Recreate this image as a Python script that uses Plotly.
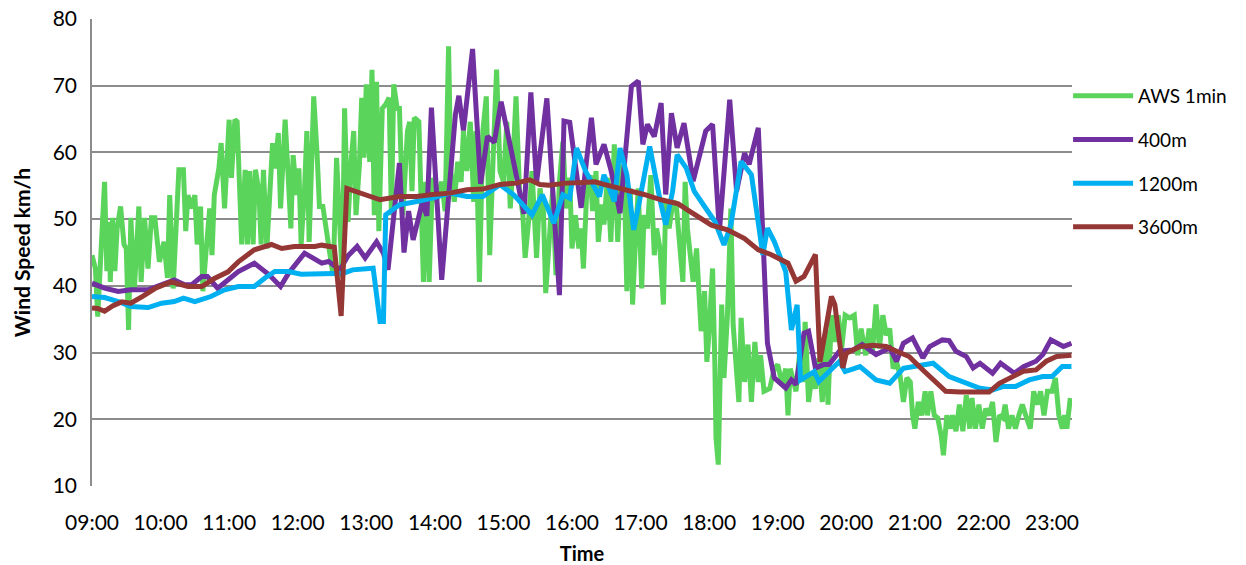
import pandas as pd
import plotly.graph_objects as go

# ---- data: minutes after 09:00 and wind speed (km/h) ----
aws_min = [0,3,5,8,11,13,15,16,18,20,
           22,25,28,30,32,34,37,41,43,46,
           49,52,55,59,63,66,68,71,73,76,
           80,82,84,87,90,92,95,97,100,103,
           105,107,111,113,116,118,120,122,125,127,
           129,131,134,136,138,141,143,146,148,150,
           153,156,158,160,163,165,167,169,171,174,
           176,179,181,183,186,188,190,192,194,197,
           199,202,205,208,211,
           214,217,219,221,224,227,229,231,234,236,
           238,240,243,245,247,249,251,254,257,260,
           262,264,267,269,272,276,278,280,282,286,
           288,290,292,295,298,301,306,309,312,314,
           317,320,323,325,328,331,334,336,339,342,
           345,348,351,354,357,360,363,366,368,371,
           374,377,379,382,385,389,392,395,397,400,
           403,406,409,412,415,418,420,423,426,
           428,430,433,436,438,441,443,446,448,451,
           454,457,460,463,466,468,471,473,476,478,
           481,483,486,489,492,494,497,500,502,505,
           508,511,514,517,519,521,526,529,531,533,
           536,538,540,542,543,545,546,548,550,551,
           553,556,559,561,564,566,568,571,574,577,
           580,583,585,588,593,597,600,604,607,609,
           611,616,619,622,624,627,630,633,636,639,
           642,644,647,650,653,656,659,663,667,670,
           673,677,680,683,686,689,692,695,698,701,
           704,707,710,713,716,718,720,723,726,729,
           731,734,737,740,743,745,748,751,753,756,
           759,762,765,768,770,773,776,779,782,785,
           788,791,794,797,799,802,805,808,811,814,
           817,821,824,827,830,833,836,840,843,846,
           849,851,853,856]
aws_kmh = [44.6,42.6,35.4,46.6,55.6,42.2,49.6,40.6,50.2,42.2,
           48.6,51.9,46.2,45.6,33.4,50.2,39.2,51.9,40.6,50.2,
           42.6,50.2,50.2,43.6,46.6,41.2,53.6,39.6,45.6,57.4,
           57.4,48.2,53.6,51.6,53.6,46.2,51.9,39.2,45.6,51.6,
           44.6,53.6,57.6,61.4,51.6,60.2,64.9,56.2,64.9,64.6,
           55.2,46.2,57.4,46.2,57.2,46.2,57.4,54.2,46.2,57.4,
           45.6,54.2,61.4,57.6,62.9,51.6,57.6,64.9,58.6,48.6,
           59.6,53.6,57.6,46.2,54.6,63.2,46.6,59.6,68.4,59.6,
           51.9,51.9,48.2,44.6,41.5,
           59.2,49.6,41.2,66.6,49.6,59.2,63.2,50.6,58.2,68.2,
           59.2,70.2,58.6,72.4,50.6,70.6,48.2,66.6,67.2,68.2,
           50.6,70.2,66.6,66.6,50.6,63.2,64.6,54.2,65.2,64.6,
           49.6,40.6,55.6,40.6,56.2,52.6,55.6,51.2,75.9,57.2,
           52.6,58.6,55.6,63.2,57.2,64.6,52.6,63.2,40.6,63.2,
           68.4,44.6,59.2,72.4,57.2,55.6,64.6,51.6,57.2,68.4,
           54.6,50.6,44.2,49.6,57.2,44.2,54.6,51.2,38.9,48.2,
           54.2,41.6,55.6,61.6,51.6,56.2,45.6,50.6,45.6,
           48.6,42.6,54.6,56.6,51.2,57.2,46.6,52.2,49.2,56.2,
           46.6,61.2,46.6,58.2,54.2,39.2,54.6,37.2,48.6,54.6,
           39.6,50.6,48.6,56.6,44.6,48.6,45.6,37.2,52.6,48.6,
           52.2,52.6,46.6,40.6,55.6,48.6,40.6,45.6,39.2,33.2,
           39.2,28.6,33.2,40.6,42.6,28.2,17.2,13.2,32.6,37.2,
           26.2,35.6,51.6,34.2,27.2,22.6,35.2,25.6,31.2,22.6,
           31.6,25.6,29.6,24.2,24.6,27.6,28.2,25.2,27.6,20.6,
           27.6,24.2,29.6,25.6,34.6,22.6,26.6,24.6,29.2,22.6,
           33.4,22.2,35.6,31.6,35.6,30.6,35.6,35.2,35.6,29.6,
           33.6,29.6,33.6,30.2,37.2,30.6,35.6,32.6,33.6,27.6,
           28.6,26.6,22.6,26.2,25.6,20.6,18.6,22.6,20.6,24.2,
           20.6,24.2,20.6,20.2,17.6,14.6,20.6,18.6,20.6,18.2,
           22.2,18.2,23.6,18.6,23.2,18.6,22.2,18.6,21.6,20.6,
           22.6,16.6,20.6,20.2,22.2,18.6,20.6,18.6,20.6,22.2,
           20.6,18.6,24.2,22.2,24.2,20.6,24.2,24.2,26.2,20.6,
           18.6,20.6,18.6,23.2]

m400_min = [0,11,23,34,49,61,72,81,87,96,
            101,110,119,128,142,148,155,165,172,186,
            201,207,212,217,224,232,239,249,255,259,
            269,273,277,281,289,293,297,306,318,321,
            325,333,340,346,352,358,368,378,384,389,
            398,409,413,418,428,437,441,448,454,462,
            472,478,482,486,492,498,502,507,512,518,
            526,537,543,549,558,564,571,575,583,591,
            597,607,612,616,623,627,633,640,645,654,
            666,674,686,698,704,710,718,727,733,744,
            750,756,765,771,777,788,795,807,815,826,
            832,839,850,857]
m400_kmh = [40.4,39.65,39.15,39.4,39.4,40.15,40.9,40.15,40.15,41.4,
            41.4,39.65,40.9,42.15,43.4,42.65,41.65,39.9,41.9,44.9,
            43.4,43.65,43.0,42.4,44.5,45.9,44.2,46.6,44.9,42.4,
            58.4,45.0,51.2,46.9,52.5,50.5,66.7,40.9,65.7,68.5,
            63.3,75.5,55.3,62.4,61.5,67.6,59.3,50.8,69.0,55.5,
            68.1,38.6,64.7,64.5,51.7,65.2,58.2,61.2,57.4,50.9,
            69.9,70.7,61.2,64.2,62.4,67.4,53.7,65.9,60.7,64.4,
            55.7,63.2,64.2,48.2,67.9,54.2,59.9,58.2,63.7,31.4,
            26.2,24.7,25.9,25.2,32.9,33.2,27.7,28.2,28.2,30.2,
            30.4,31.2,29.7,30.7,28.7,31.4,32.2,29.2,30.9,31.9,
            31.8,30.2,29.4,27.7,28.4,26.9,28.4,26.9,27.9,28.7,
            29.7,31.9,30.9,31.4]

m1200_min = [0,11,23,34,49,61,72,80,90,104,
             116,128,142,151,160,172,183,201,212,220,
             228,246,252,255,257,269,284,298,313,328,
             342,357,369,377,385,394,404,412,418,424,
             432,444,448,457,462,468,474,479,488,497,
             502,508,512,520,527,536,545,553,559,568,
             577,587,591,597,607,612,617,620,632,636,
             644,654,659,672,686,698,710,721,736,750,
             765,777,788,797,808,820,832,840,849,857]
m1200_kmh = [38.4,38.25,37.65,36.9,36.75,37.4,37.65,38.15,37.65,38.4,
             39.4,39.9,39.9,41.15,42.15,42.15,41.75,41.9,41.9,41.9,
             42.4,42.65,34.65,34.65,50.65,52.15,52.65,53.15,53.9,53.4,
             53.4,55.15,53.65,52.15,50.65,53.65,49.4,53.65,53.15,60.65,
             57.15,53.4,56.65,52.65,60.65,56.65,48.4,52.65,60.9,52.9,
             49.15,54.15,59.65,57.65,54.15,51.9,49.65,46.15,49.15,58.65,
             56.65,44.65,48.65,46.65,42.15,33.4,37.15,25.9,27.15,25.65,
             26.9,28.65,27.15,27.9,25.9,25.4,27.65,27.9,28.4,26.4,
             25.4,24.65,24.4,24.9,24.9,25.9,26.4,26.4,27.9,27.9]

m3600_min = [0,5,11,18,26,34,45,55,69,84,
             96,107,119,128,142,157,166,177,195,201,
             212,218,223,237,252,269,284,298,313,328,
             342,357,371,383,392,400,415,430,440,448,
             469,483,498,513,521,530,542,556,571,583,
             594,609,616,623,633,637,644,647,650,657,
             660,672,683,695,704,715,727,736,747,760,
             771,785,794,806,815,826,835,844,857]
m3600_kmh = [36.7,36.6,36.2,37.0,37.6,37.4,38.5,39.6,40.6,39.9,
             39.9,41.1,42.1,43.6,45.4,46.2,45.6,45.9,45.9,46.1,
             45.8,35.5,54.6,53.7,52.9,53.4,53.4,53.7,53.9,54.4,
             54.5,55.2,55.4,55.9,55.2,55.1,55.4,55.5,55.6,55.2,
             54.4,53.7,52.9,52.3,51.4,50.4,49.1,48.4,47.1,45.4,
             44.7,43.4,40.7,41.4,44.7,28.6,35.0,38.4,37.2,27.7,
             29.9,30.9,31.1,30.9,30.2,29.4,27.4,25.9,24.2,24.1,
             24.1,24.1,25.4,26.4,27.2,27.4,28.7,29.4,29.6]

series_names = ["AWS 1min", "400m", "1200m", "3600m"]
series_colors = ["#5BD45B", "#7030A0", "#00B0F0", "#953735"]
tick_labels = ["09:00", "10:00", "11:00", "12:00", "13:00", "14:00", "15:00",
               "16:00", "17:00", "18:00", "19:00", "20:00", "21:00", "22:00", "23:00"]

base = pd.Timestamp("2000-01-01 09:00")


def to_time(mins):
    return [base + pd.Timedelta(minutes=m) for m in mins]


series = [(aws_min, aws_kmh), (m400_min, m400_kmh), (m1200_min, m1200_kmh), (m3600_min, m3600_kmh)]
for t, v in series:
    assert len(t) == len(v)

FONT = "Lato, 'Open Sans', sans-serif"
fig = go.Figure()
for (t, v), name, col in zip(series, series_names, series_colors):
    fig.add_trace(go.Scatter(
        x=to_time(t), y=v, mode="lines", name=name,
        legendgroup=name,
        line=dict(color=col, width=5),
    ))

tickvals = [base + pd.Timedelta(hours=h) for h in range(len(tick_labels))]
fig.update_layout(
    width=1246, height=565,
    margin=dict(l=92, r=174, t=19, b=79, autoexpand=False),
    paper_bgcolor="white", plot_bgcolor="white",
    font=dict(family=FONT, size=21, color="black"),
    showlegend=True,
    legend=dict(
        x=0.996, xanchor="left", y=0.876, yanchor="top",
        traceorder="grouped", tracegroupgap=16,
        font=dict(size=19, color="black"),
        itemwidth=60, bgcolor="rgba(0,0,0,0)",
    ),
    xaxis=dict(
        range=[base, base + pd.Timedelta(minutes=857.5)],
        tickvals=tickvals, ticktext=tick_labels,
        showgrid=False, zeroline=False, showline=False,
        ticks="", tickfont=dict(size=21), ticklabelstandoff=22,
        ticklabeloverflow="allow",
        automargin=False,
        title=dict(text="<b>Time</b>", font=dict(size=20), standoff=21),
    ),
    yaxis=dict(
        range=[10, 80], dtick=10, tick0=10,
        showgrid=True, gridcolor="#8c8c8c", gridwidth=1.6,
        zeroline=False, showline=True, linecolor="#8c8c8c", linewidth=1.6,
        ticks="", tickfont=dict(size=21), ticklabelstandoff=9,
        ticklabeloverflow="allow",
        automargin=False,
        title=dict(text="<b>Wind Speed km/h</b>", font=dict(size=21), standoff=16),
    ),
)
# remove the browser's default 8px page margin so the figure sits at the window's corner
fig.write_html("out.html", config={"displayModeBar": False},
               post_script="document.body.style.margin='0px';")
